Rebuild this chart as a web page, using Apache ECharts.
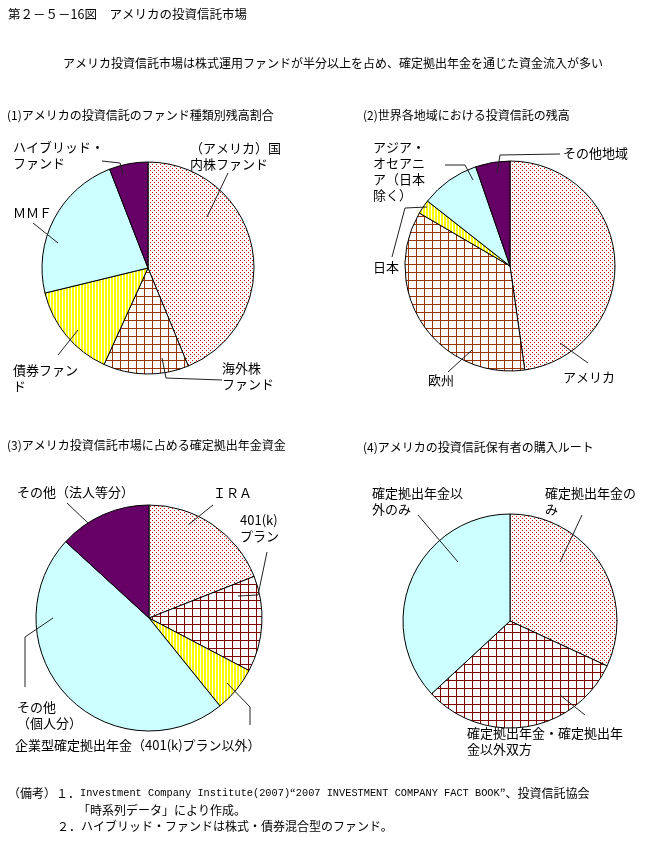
<!DOCTYPE html>
<html><head><meta charset="utf-8">
<script src="https://cdn.jsdelivr.net/npm/echarts@6/dist/echarts.min.js"></script>
<style>html,body{margin:0;padding:0;background:#fff}#c{width:659px;height:857px}</style>
</head><body><div id="c"></div>
<script>
// ---- data ----
const fundNames = ['（アメリカ）国内株ファンド','海外株ファンド','債券ファンド','ＭＭＦ','ハイブリッド・ファンド'];
const fundLabels = ['（アメリカ）国\n内株ファンド','海外株\nファンド','債券ファン\nド','ＭＭＦ','ハイブリッド・\nファンド'];
const fundValues = [43.8, 13.0, 14.4, 22.9, 5.9];

const regionNames = ['アメリカ','欧州','日本','アジア・オセアニア（日本除く）','その他地域'];
const regionLabels = ['アメリカ','欧州','日本','アジア・\nオセアニ\nア（日本\n除く）','その他地域'];
const regionValues = [47.8, 35.7, 2.2, 9.1, 5.3];

const dcNames = ['ＩＲＡ','401(k)プラン','企業型確定拠出年金（401(k)プラン以外）','その他（個人分）','その他（法人等分）'];
const dcLabels = ['ＩＲＡ','401(k)\nプラン','企業型確定拠出年金（401(k)プラン以外）','その他\n（個人分）','その他（法人等分）'];
const dcValues = [19.0, 13.7, 6.5, 47.6, 13.2];

const routeNames = ['確定拠出年金のみ','確定拠出年金・確定拠出年金以外双方','確定拠出年金以外のみ'];
const routeLabels = ['確定拠出年金の\nみ','確定拠出年金・確定拠出年\n金以外双方','確定拠出年金以\n外のみ'];
const routeValues = [31.9, 31.2, 36.9];

// ---- text ----
const mainTitle = '第２－５－16図　アメリカの投資信託市場';
const subTitle = 'アメリカ投資信託市場は株式運用ファンドが半分以上を占め、確定拠出年金を通じた資金流入が多い';
const panelTitles = ['(1)アメリカの投資信託のファンド種類別残高割合','(2)世界各地域における投資信託の残高','(3)アメリカ投資信託市場に占める確定拠出年金資金','(4)アメリカの投資信託保有者の購入ルート'];

// ---- patterns ----
function tile(w,h,draw){const c=document.createElement('canvas');c.width=w;c.height=h;const g=c.getContext('2d');g.fillStyle='#fff';g.fillRect(0,0,w,h);draw(g);return {image:c,repeat:'repeat'};}
const dots = tile(4,4,g=>{g.fillStyle='#cc0000';g.fillRect(0,0,1,1);g.fillRect(2,2,1,1);});
const gridBrown = tile(8,8,g=>{g.fillStyle='#993300';g.fillRect(0,0,8,1);g.fillRect(0,0,1,8);});
const gridRed = tile(8,8,g=>{g.fillStyle='#800000';g.fillRect(0,0,8,1);g.fillRect(0,0,1,8);});
const stripes = tile(3,1,g=>{g.fillStyle='#ffff00';g.fillRect(0,0,2,1);});
const cyan = '#ccffff', purple = '#660066';

const FONT = '"Noto Sans CJK JP", "Noto Sans", sans-serif';

// ---- label layout (annotation positions) ----
const L1 = [
  {x:190,y:140,line:[[228,173],[207,217]]},
  {x:222,y:360,line:[[222,380],[166,378],[162,358]]},
  {x:13,y:362,line:[[58,355],[78,330]]},
  {x:13,y:205,line:[[33,223],[58,243]]},
  {x:13,y:139,line:[[102,161],[120,163],[123,174]]}
];
const L2 = [
  {x:563,y:369,line:[[588,363],[560,343]]},
  {x:428,y:372,line:[[448,372],[472,350]]},
  {x:373,y:259,line:[[392,257],[405,208],[427,207]]},
  {x:373,y:139,line:[[445,165],[465,165],[473,180]]},
  {x:563,y:145,line:[[560,154],[500,155],[497,173]]}
];
const L3 = [
  {x:213,y:485,line:[[213,505],[188,525]]},
  {x:240,y:512,line:[[267,552],[258,595],[238,596]]},
  {x:15,y:737,line:[[250,725],[250,707],[227,683]]},
  {x:17,y:699,line:[[25,687],[25,637],[53,618]]},
  {x:17,y:484,line:[[67,503],[88,523]]}
];
const L4 = [
  {x:545,y:485,line:[[582,515],[560,562]]},
  {x:467,y:725,line:[[585,715],[560,695]]},
  {x:372,y:485,line:[[418,515],[458,562]]}
];

function pie(names, values, labels, colors, center, radius, layout){
  return {
    type:'pie', center:center, radius:radius, startAngle:90, clockwise:true,
    silent:true, animation:false, avoidLabelOverlap:false,
    emphasis:{disabled:true},
    data: values.map((v,i)=>({value:v, name:names[i], itemStyle:{color:colors[i]}})),
    itemStyle:{borderColor:'#000', borderWidth:1},
    label:{show:true, position:'outside', formatter:p=>labels[p.dataIndex],
      fontFamily:FONT, fontSize:13, color:'#000', lineHeight:16},
    labelLine:{show:false},
    labelLayout: p => { const a = layout[p.dataIndex];
      return {x:a.x, y:a.y, align:'left', verticalAlign:'top'}; }
  };
}

const chart = echarts.init(document.getElementById('c'), null, {renderer:'canvas'});
const txt = (x,y,text,size,align)=>({type:'text', x:x, y:y, silent:true,
  style:{text:text, font:size+'px '+FONT, fill:'#000', textAlign:align||'left', textVerticalAlign:'middle'}});
const leaders = [].concat(L1,L2,L3,L4).map(a=>({type:'polyline', silent:true, z:100,
  shape:{points:a.line}, style:{stroke:'#222', lineWidth:1, fill:null}}));

chart.setOption({
  backgroundColor:'#fff',
  animation:false,
  series:[
    pie(fundNames, fundValues, fundLabels, [dots, gridBrown, stripes, cyan, purple], [148,268], 106, L1),
    pie(regionNames, regionValues, regionLabels, [dots, gridBrown, stripes, cyan, purple], [510,266], 105, L2),
    pie(dcNames, dcValues, dcLabels, [dots, gridRed, stripes, cyan, purple], [149,618], 113, L3),
    pie(routeNames, routeValues, routeLabels, [dots, gridRed, cyan], [510,621], 107, L4)
  ],
  graphic:[
    txt(8,14,mainTitle,12.5),
    txt(333,63,subTitle,12,'center'),
    txt(7,115,panelTitles[0],12),
    txt(363,115,panelTitles[1],12),
    txt(7,445,panelTitles[2],12),
    txt(363,447,panelTitles[3],12),
    {type:'text', x:8, y:793, silent:true, style:{
      text:'{j|（備考）１．}{m|Investment Company Institute(2007)}{j|“}{m|2007 INVESTMENT COMPANY FACT BOOK}{j|”、投資信託協会}',
      textVerticalAlign:'middle', fill:'#000',
      rich:{j:{fontFamily:FONT, fontSize:12, fill:'#000'}, m:{fontFamily:'"Liberation Mono", monospace', fontSize:10.3, fill:'#000'}}}},
    txt(78,810,'「時系列データ」により作成。',12),
    txt(57,826,'２．ハイブリッド・ファンドは株式・債券混合型のファンド。',12)
  ].concat(leaders)
});
</script></body></html>
